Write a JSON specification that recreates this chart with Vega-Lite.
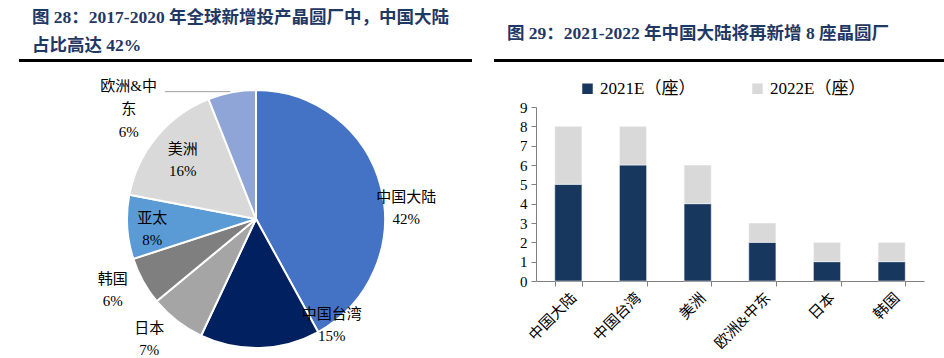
{
  "$schema": "https://vega.github.io/schema/vega-lite/v6.json",
  "padding": {"left": 19, "top": 8, "right": 0, "bottom": 0},
  "background": "white",
  "config": {"view": {"stroke": null}, "font": "'Liberation Serif', 'Noto Sans CJK SC'"},
  "bounds": "flush",
  "spacing": 475,
  "resolve": {"scale": {"color": "independent", "theta": "independent"}},
  "hconcat": [
    {
      "bounds": "flush",
      "spacing": 28,
      "resolve": {"scale": {"color": "independent"}},
      "vconcat": [
        {
          "width": 451,
          "height": 1,
          "view": {"stroke": "black", "strokeWidth": 2},
          "title": {
            "text": ["图 28：2017-2020 年全球新增投产晶圆厂中，中国大陆", "占比高达 42%"],
            "anchor": "start",
            "fontSize": 17.5,
            "fontWeight": "bold",
            "color": "#1f3864",
            "lineHeight": 28,
            "offset": 0,
            "dx": 12,
            "font": "'Liberation Serif', 'Noto Sans CJK SC'"
          },
          "data": {"values": [{}]},
          "mark": {"type": "text", "text": ""},
          "encoding": {}
        },
        {
          "width": 472,
          "height": 260,
          "data": {
            "values": [
              {"region": "中国大陆", "share": 42, "label": "中国大陆\n42%", "idx": 1},
              {"region": "中国台湾", "share": 15, "label": "中国台湾\n15%", "idx": 2},
              {"region": "日本", "share": 7, "label": "日本\n7%", "idx": 3},
              {"region": "韩国", "share": 6, "label": "韩国\n6%", "idx": 4},
              {"region": "亚太", "share": 8, "label": "亚太\n8%", "idx": 5},
              {"region": "美洲", "share": 16, "label": "美洲\n16%", "idx": 6},
              {"region": "欧洲&中东", "share": 6, "label": "欧洲&中\n东\n6%", "idx": 7}
            ]
          },
          "encoding": {
            "theta": {"field": "share", "type": "quantitative", "stack": true},
            "order": {"field": "idx", "type": "quantitative"},
            "detail": {"field": "region", "type": "nominal"}
          },
          "layer": [
            {
              "mark": {"type": "arc", "radius": 129, "stroke": "white", "strokeWidth": 2},
              "encoding": {
                "color": {
                  "field": "region",
                  "type": "nominal",
                  "scale": {
                    "domain": ["中国大陆", "中国台湾", "日本", "韩国", "亚太", "美洲", "欧洲&中东"],
                    "range": ["#4472C4", "#002060", "#A5A5A5", "#7F7F7F", "#5B9BD5", "#D9D9D9", "#8FA5D8"]
                  },
                  "legend": null
                }
              }
            },
            {
              "mark": {"type": "text", "radius": 152, "dx": 3, "dy": 16, "fontSize": 15, "lineBreak": "\n", "lineHeight": 22, "color": "black"},
              "encoding": {"text": {"condition": {"test": "datum.region === '中国大陆'", "field": "label", "type": "nominal"}, "value": ""}}
            },
            {
              "mark": {"type": "text", "radius": 120, "dx": 72, "dy": -25, "fontSize": 15, "lineBreak": "\n", "lineHeight": 22, "color": "black"},
              "encoding": {"text": {"condition": {"test": "datum.region === '中国台湾'", "field": "label", "type": "nominal"}, "value": ""}}
            },
            {
              "mark": {"type": "text", "radius": 158, "dx": -10, "dy": -16, "fontSize": 15, "lineBreak": "\n", "lineHeight": 22, "color": "black"},
              "encoding": {"text": {"condition": {"test": "datum.region === '日本'", "field": "label", "type": "nominal"}, "value": ""}}
            },
            {
              "mark": {"type": "text", "radius": 160, "dx": -3, "dy": -17, "fontSize": 15, "lineBreak": "\n", "lineHeight": 22, "color": "black"},
              "encoding": {"text": {"condition": {"test": "datum.region === '韩国'", "field": "label", "type": "nominal"}, "value": ""}}
            },
            {
              "mark": {"type": "text", "radius": 104, "dx": 0, "dy": -8, "fontSize": 15, "lineBreak": "\n", "lineHeight": 22, "color": "black"},
              "encoding": {"text": {"condition": {"test": "datum.region === '亚太'", "field": "label", "type": "nominal"}, "value": ""}}
            },
            {
              "mark": {"type": "text", "radius": 95, "dx": 0, "dy": -9, "fontSize": 15, "lineBreak": "\n", "lineHeight": 22, "color": "black"},
              "encoding": {"text": {"condition": {"test": "datum.region === '美洲'", "field": "label", "type": "nominal"}, "value": ""}}
            },
            {
              "mark": {"type": "text", "radius": 130, "dx": -103, "dy": -5, "fontSize": 15, "lineBreak": "\n", "lineHeight": 23, "color": "black"},
              "encoding": {"text": {"condition": {"test": "datum.region === '欧洲&中东'", "field": "label", "type": "nominal"}, "value": ""}}
            },
            {
              "mark": {"type": "text", "radius": 130, "dx": -34, "dy": 1, "fontSize": 12, "font": "DejaVu Sans", "color": "#a6a6a6"},
              "encoding": {"text": {"condition": {"test": "datum.region === '欧洲&中东'", "value": "─────────"}, "value": ""}}
            }
          ]
        }
      ]
    },
    {
      "bounds": "flush",
      "spacing": 46,
      "resolve": {"scale": {"color": "independent"}},
      "vconcat": [
        {
          "width": 450,
          "height": 1,
          "view": {"stroke": "black", "strokeWidth": 2},
          "title": {
            "text": "图 29：2021-2022 年中国大陆将再新增 8 座晶圆厂",
            "anchor": "start",
            "fontSize": 17.5,
            "fontWeight": "bold",
            "color": "#1f3864",
            "offset": 12,
            "dx": 12,
            "font": "'Liberation Serif', 'Noto Sans CJK SC'"
          },
          "data": {"values": [{}]},
          "mark": {"type": "text", "text": ""},
          "encoding": {}
        },
        {
          "bounds": "flush",
          "spacing": 40,
          "hconcat": [
            {
              "width": 1,
              "height": 1,
              "data": {"values": [{}]},
              "mark": {"type": "text", "text": ""},
              "encoding": {}
            },
            {
              "width": 388,
              "height": 174,
              "data": {
                "values": [
                  {"region": "中国大陆", "year": "2021E（座）", "count": 5},
                  {"region": "中国大陆", "year": "2022E（座）", "count": 3},
                  {"region": "中国台湾", "year": "2021E（座）", "count": 6},
                  {"region": "中国台湾", "year": "2022E（座）", "count": 2},
                  {"region": "美洲", "year": "2021E（座）", "count": 4},
                  {"region": "美洲", "year": "2022E（座）", "count": 2},
                  {"region": "欧洲&中东", "year": "2021E（座）", "count": 2},
                  {"region": "欧洲&中东", "year": "2022E（座）", "count": 1},
                  {"region": "日本", "year": "2021E（座）", "count": 1},
                  {"region": "日本", "year": "2022E（座）", "count": 1},
                  {"region": "韩国", "year": "2021E（座）", "count": 1},
                  {"region": "韩国", "year": "2022E（座）", "count": 1}
                ]
              },
              "mark": {"type": "bar", "stroke": "white", "strokeWidth": 0.5},
              "encoding": {
                "x": {
                  "field": "region",
                  "type": "nominal",
                  "sort": null,
                  "scale": {"paddingInner": 0.58, "paddingOuter": 0.29},
                  "axis": {
                    "title": null,
                    "labelAngle": -45,
                    "labelFontSize": 15,
                    "labelColor": "black",
                    "tickBand": "extent",
                    "tickSize": 5,
                    "domainColor": "#808080",
                    "tickColor": "#808080",
                    "labelPadding": 4
                  }
                },
                "y": {
                  "field": "count",
                  "type": "quantitative",
                  "stack": "zero",
                  "scale": {"domain": [0, 9], "nice": false},
                  "axis": {
                    "title": null,
                    "values": [0, 1, 2, 3, 4, 5, 6, 7, 8, 9],
                    "grid": false,
                    "tickSize": 5,
                    "labelFontSize": 15,
                    "labelColor": "black",
                    "domainColor": "#808080",
                    "tickColor": "#808080",
                    "labelPadding": 4
                  }
                },
                "order": {"field": "year", "type": "nominal", "sort": "ascending"},
                "color": {
                  "field": "year",
                  "type": "nominal",
                  "scale": {"domain": ["2021E（座）", "2022E（座）"], "range": ["#17375E", "#D9D9D9"]},
                  "legend": {
                    "orient": "none",
                    "legendX": 84,
                    "legendY": -27,
                    "direction": "horizontal",
                    "title": null,
                    "symbolType": "square",
                    "symbolSize": 110,
                    "symbolStrokeWidth": 0,
                    "labelFontSize": 17,
                    "labelColor": "black",
                    "columnPadding": 53
                  }
                }
              }
            }
          ]
        }
      ]
    }
  ]
}
